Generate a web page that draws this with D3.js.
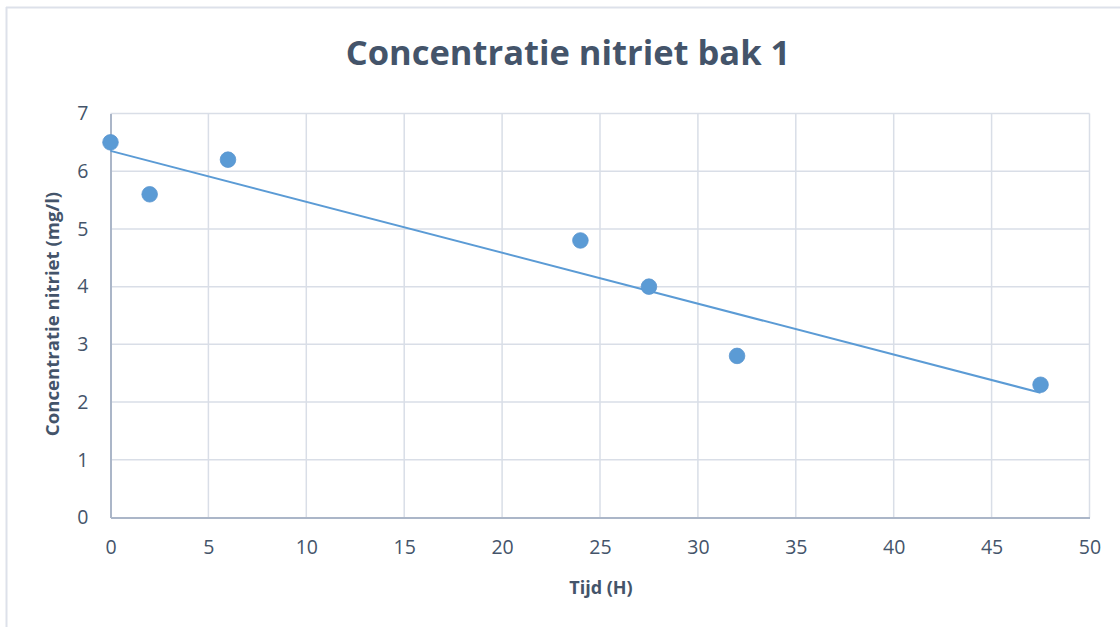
<!DOCTYPE html>
<html><head><meta charset="utf-8">
<script src="https://cdn.jsdelivr.net/npm/d3@7"></script>
<style>body{margin:0;background:#fff}svg{display:block}</style>
</head><body>
<svg id="c" width="1120" height="627"></svg>
<script>
const hours = [0, 2, 6, 24, 27.5, 32, 47.5];
const nitrite = [6.5, 5.6, 6.2, 4.8, 4.0, 2.8, 2.3];
const xTicks = [0, 5, 10, 15, 20, 25, 30, 35, 40, 45, 50];
const yTicks = [0, 1, 2, 3, 4, 5, 6, 7];
const title = "Concentratie nitriet bak 1";
const xTitle = "Tijd (H)";
const yTitle = "Concentratie nitriet (mg/l)";

const svg = d3.select("#c");
const font = "'Open Sans', sans-serif";
const txt = "#44546A";
const grid = "#D9DEE7";
const axisC = "#ABB6C8";
const blue = "#5B9BD5";

// frame (left + top only visible)
svg.append("line").attr("x1",6.5).attr("x2",6.5).attr("y1",7).attr("y2",627).attr("stroke","#DDE1EA").attr("stroke-width",2);
svg.append("line").attr("x1",6).attr("x2",1120).attr("y1",7.5).attr("y2",7.5).attr("stroke","#DDE1EA").attr("stroke-width",2);

const x = d3.scaleLinear().domain([0,50]).range([110.5,1089.5]);
const y = d3.scaleLinear().domain([0,7]).range([517.5,113.5]);

// gridlines
svg.append("g").selectAll("line").data(yTicks.filter(d=>d>0)).join("line")
  .attr("x1",x(0)).attr("x2",x(50)).attr("y1",d=>y(d)).attr("y2",d=>y(d))
  .attr("stroke",grid).attr("stroke-width",1.5);
svg.append("g").selectAll("line").data(xTicks.filter(d=>d>0)).join("line")
  .attr("y1",y(0)).attr("y2",y(7)).attr("x1",d=>x(d)).attr("x2",d=>x(d))
  .attr("stroke",grid).attr("stroke-width",1.5);

// axes
const xAxis = svg.append("g").attr("transform",`translate(0,${y(0)})`)
  .call(d3.axisBottom(x).tickValues(xTicks).tickSize(0).tickPadding(23).tickFormat(d3.format("d")));
const yAxis = svg.append("g").attr("transform",`translate(${x(0)},0)`)
  .call(d3.axisLeft(y).tickValues(yTicks).tickSize(0).tickPadding(22).tickFormat(d3.format("d")));
[xAxis,yAxis].forEach(a=>{
  a.select(".domain").attr("stroke",axisC).attr("stroke-width",2);
  a.selectAll("text").attr("fill",txt).style("font-family",font).style("font-size","19.5px");
});

// trendline (least squares)
const mx = d3.mean(hours), my = d3.mean(nitrite);
const slope = d3.sum(hours,(h,i)=>(h-mx)*(nitrite[i]-my)) / d3.sum(hours,h=>(h-mx)*(h-mx));
const icpt = my - slope*mx;
const xr = d3.extent(hours);
svg.append("line")
  .attr("x1",x(xr[0])).attr("y1",y(icpt+slope*xr[0]))
  .attr("x2",x(xr[1])).attr("y2",y(icpt+slope*xr[1]))
  .attr("stroke",blue).attr("stroke-width",2);

// points
svg.append("g").selectAll("circle").data(hours.map((h,i)=>[h,nitrite[i]])).join("circle")
  .attr("cx",d=>x(d[0])).attr("cy",d=>y(d[1])).attr("r",7.8)
  .attr("fill",blue).attr("stroke","#5A96CF").attr("stroke-width",0.8);

// titles
svg.append("text").attr("x",568).attr("y",65).attr("text-anchor","middle")
  .attr("fill",txt).style("font-family",font).style("font-weight","bold").style("font-size","34.5px").text(title);
svg.append("text").attr("x",601).attr("y",594).attr("text-anchor","middle")
  .attr("fill",txt).style("font-family",font).style("font-weight","bold").style("font-size","18px").text(xTitle);
svg.append("text").attr("transform","translate(59,314) rotate(-90)").attr("text-anchor","middle")
  .attr("fill",txt).style("font-family",font).style("font-weight","bold").style("font-size","18.6px").text(yTitle);
</script>
</body></html>
